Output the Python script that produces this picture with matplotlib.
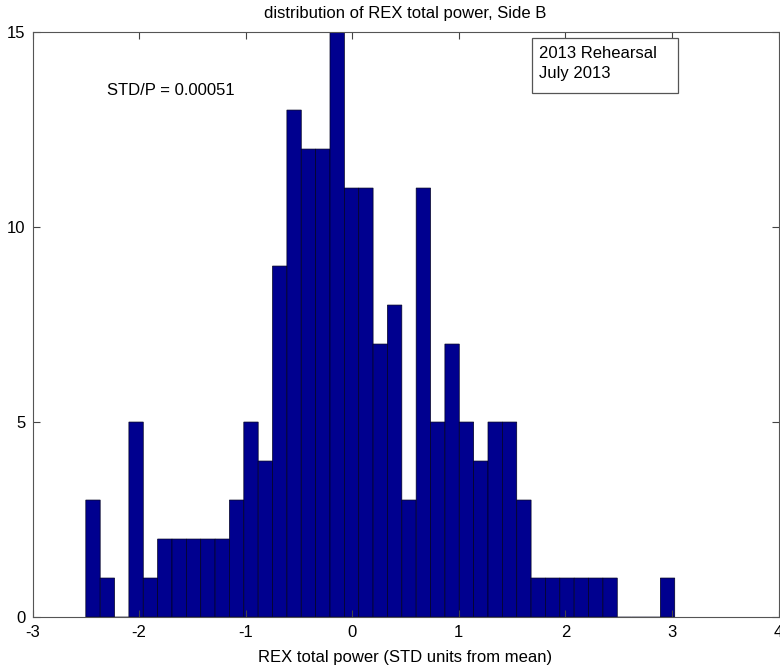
import numpy as np
import matplotlib
matplotlib.use('Agg')
import matplotlib.pyplot as plt
from matplotlib.patches import Rectangle

# histogram of total power, in STD units from the mean (41 equal bins)
bin_lo = -2.50
bin_hi = 3.026
counts = [3, 1, 0, 5, 1, 2, 2, 2, 2, 2, 3, 5, 4, 9, 13, 12, 12, 15, 11, 11, 7,
          8, 3, 11, 5, 7, 5, 4, 5, 5, 3, 1, 1, 1, 1, 1, 1, 0, 0, 0, 1]
std_ratio = 0.00051
x_ticks = [-3, -2, -1, 0, 1, 2, 3, 4]
y_ticks = [0, 5, 10, 15]

plt.rcParams['font.family'] = ['Liberation Sans', 'DejaVu Sans']
plt.rcParams['font.size'] = 12
plt.rcParams['axes.unicode_minus'] = False

edges = np.linspace(bin_lo, bin_hi, len(counts) + 1)
width = edges[1] - edges[0]

fig = plt.figure(figsize=(7.8, 6.68), dpi=100)
ax = fig.add_axes([0.0417, 0.0763, 0.9564, 0.8757])

ax.bar(edges[:-1], counts, width=width, align='edge',
       color='#00008f', edgecolor='#000020', linewidth=0.5, snap=False)

ax.set_xlim(-3, 4)
ax.set_ylim(0, 15)
ax.set_xticks(x_ticks)
ax.set_yticks(y_ticks)
ax.tick_params(direction='in', length=5, width=0.8, top=True, right=True,
               colors='#444444', labelcolor='black', labelsize=12)
ax.tick_params(axis='x', pad=6)
ax.tick_params(axis='y', pad=5)
for s in ax.spines.values():
    s.set_color('#555555')
    s.set_linewidth(0.8)

ax.set_title('distribution of REX total power, Side B', fontsize=12, pad=10)
ax.set_xlabel('REX total power (STD units from mean)', fontsize=12, labelpad=7)

ax.text(-2.30, 13.5, f'STD/P = {std_ratio:.5f}', fontsize=12, va='center', ha='left')

# annotation box in the upper right
fig.add_artist(Rectangle((0.6817, 0.8612), 0.188, 0.0815, transform=fig.transFigure,
                         facecolor='white', edgecolor='#555555', linewidth=0.9))
fig.text(0.6915, 0.9205, '2013 Rehearsal', fontsize=12, va='center', ha='left')
fig.text(0.6915, 0.8905, 'July 2013', fontsize=12, va='center', ha='left')

fig.savefig('out.png', dpi=100)
